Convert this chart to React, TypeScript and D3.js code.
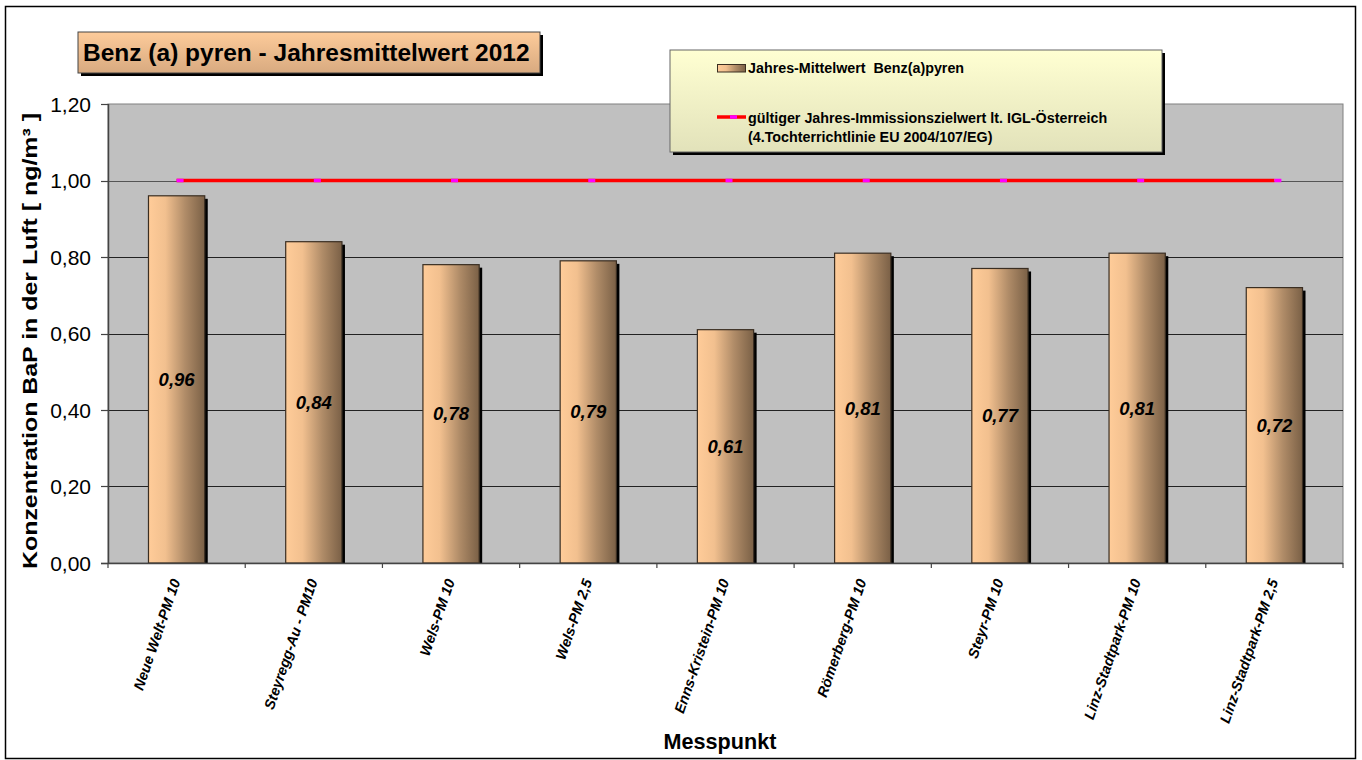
import React from "react";
import * as d3 from "d3";

const categories = [
  "Neue Welt-PM 10",
  "Steyregg-Au - PM10",
  "Wels-PM 10",
  "Wels-PM 2,5",
  "Enns-Kristein-PM 10",
  "Römerberg-PM 10",
  "Steyr-PM 10",
  "Linz-Stadtpark-PM 10",
  "Linz-Stadtpark-PM 2,5",
];
const values = [0.96, 0.84, 0.78, 0.79, 0.61, 0.81, 0.77, 0.81, 0.72];
const limitValues = [1, 1, 1, 1, 1, 1, 1, 1, 1];
const yTicks = [0, 0.2, 0.4, 0.6, 0.8, 1.0, 1.2];

const W = 1362;
const H = 760;
const plot = { left: 108, right: 1343, top: 104, bottom: 563 };
const FONT = "'Liberation Sans', Arial, sans-serif";

export default function App() {
  const x = d3
    .scaleBand<string>()
    .domain(categories)
    .range([plot.left, plot.right])
    .paddingInner(0)
    .paddingOuter(0);
  const y = d3.scaleLinear().domain([0, 1.2]).range([plot.bottom, plot.top]);
  const bw = x.bandwidth() * 0.41;
  const fmt = (v: number) => d3.format(".2f")(v).replace(".", ",");
  const cx = (c: string) => (x(c) as number) + x.bandwidth() / 2;

  const line = d3
    .line<number>()
    .x((_, i) => cx(categories[i]))
    .y((d) => y(d));

  return (
    <svg
      width={W}
      height={H}
      style={{ position: "absolute", left: 0, top: 0, background: "#fff" }}
      fontFamily={FONT}
    >
      <defs>
        <linearGradient id="barGrad" x1="0" x2="1" y1="0" y2="0">
          <stop offset="0" stopColor="#FFCC99" />
          <stop offset="0.3" stopColor="#F2C08F" />
          <stop offset="0.65" stopColor="#B08C68" />
          <stop offset="1" stopColor="#7A6046" />
        </linearGradient>
        <linearGradient id="titleGrad" x1="0" x2="0" y1="0" y2="1">
          <stop offset="0" stopColor="#FDCB9A" />
          <stop offset="1" stopColor="#D8AA80" />
        </linearGradient>
        <linearGradient id="legGrad" x1="0" x2="0" y1="0" y2="1">
          <stop offset="0" stopColor="#FFFFD2" />
          <stop offset="1" stopColor="#E2E2BA" />
        </linearGradient>
      </defs>

      {/* outer frame */}
      <rect x={5.5} y={6.5} width={1350} height={752} fill="#fff" stroke="#000" strokeWidth={1.5} />

      {/* plot area */}
      <rect
        x={plot.left}
        y={plot.top}
        width={plot.right - plot.left}
        height={plot.bottom - plot.top}
        fill="#C0C0C0"
        stroke="#808080"
        strokeWidth={1}
      />

      {/* gridlines */}
      {yTicks.slice(1, -1).map((t) => (
        <line
          key={"g" + t}
          x1={plot.left}
          x2={plot.right}
          y1={Math.round(y(t)) + 0.5}
          y2={Math.round(y(t)) + 0.5}
          stroke={t === 1 ? "#555" : "#222"}
          strokeWidth={1}
        />
      ))}

      {/* y axis */}
      <line x1={plot.left + 0.5} x2={plot.left + 0.5} y1={plot.top} y2={plot.bottom} stroke="#444" strokeWidth={1.5} />
      {yTicks.map((t) => (
        <g key={"yt" + t}>
          <line
            x1={plot.left - 7}
            x2={plot.left}
            y1={Math.round(y(t)) + 0.5}
            y2={Math.round(y(t)) + 0.5}
            stroke="#444"
            strokeWidth={1.2}
          />
          <text x={91} y={y(t) + 7.5} textAnchor="end" fontSize={21} fill="#000">
            {fmt(t)}
          </text>
        </g>
      ))}

      {/* bars */}
      {categories.map((c, i) => {
        const bx = cx(c) - bw / 2;
        const by = y(values[i]);
        const bh = plot.bottom - by;
        return (
          <g key={"b" + c}>
            <rect x={bx + 3} y={by + 3} width={bw} height={bh - 3} fill="#000" />
            <rect x={bx} y={by} width={bw} height={bh} fill="url(#barGrad)" stroke="#3a2e22" strokeWidth={1.2} />
          </g>
        );
      })}

      {/* x axis */}
      <line x1={plot.left - 7} x2={plot.right} y1={plot.bottom + 0.5} y2={plot.bottom + 0.5} stroke="#444" strokeWidth={1.5} />
      {d3.range(categories.length + 1).map((i) => {
        const xx = plot.left + i * x.bandwidth();
        return (
          <line key={"xt" + i} x1={xx} x2={xx} y1={plot.bottom} y2={plot.bottom + 5} stroke="#444" strokeWidth={1.2} />
        );
      })}

      {/* limit line */}
      <path d={line(limitValues) as string} fill="none" stroke="#FF0000" strokeWidth={3.5} />
      {categories.map((c, i) => (
        <rect key={"m" + c} x={cx(c)} y={y(limitValues[i]) - 1.75} width={7} height={3.5} fill="#FF00FF" />
      ))}

      {/* value labels */}
      {categories.map((c, i) => (
        <text
          key={"v" + c}
          x={cx(c)}
          y={(y(values[i]) + plot.bottom) / 2 + 6.5}
          textAnchor="middle"
          fontSize={18.5}
          fontWeight="bold"
          fontStyle="italic"
          fill="#000"
        >
          {fmt(values[i])}
        </text>
      ))}

      {/* x labels */}
      {categories.map((c) => (
        <text
          key={"xl" + c}
          transform={`translate(${cx(c) + 4},${plot.bottom + 18}) rotate(-71)`}
          textAnchor="end"
          fontSize={14.5}
          fontWeight="bold"
          fontStyle="italic"
          fill="#000"
        >
          {c}
        </text>
      ))}

      {/* axis titles */}
      <text x={720} y={749} textAnchor="middle" fontSize={21.6} fontWeight="bold" fill="#000">
        Messpunkt
      </text>
      <text
        transform={`translate(37,341) rotate(-90)`}
        textAnchor="middle"
        fontSize={21}
        fontWeight="bold"
        fill="#000"
        textLength={456}
        lengthAdjust="spacingAndGlyphs"
      >
        Konzentration BaP in der Luft [ ng/m³ ]
      </text>

      {/* title box */}
      <rect x={81} y={35} width={462} height={41} fill="#000" />
      <rect x={78} y={32} width={462} height={41} fill="url(#titleGrad)" stroke="#444" strokeWidth={1} />
      <text x={83} y={60.5} fontSize={24.5} fontWeight="bold" fill="#000">
        Benz (a) pyren - Jahresmittelwert 2012
      </text>

      {/* legend */}
      <rect x={673} y={53} width={492} height={102} fill="#000" />
      <rect x={670} y={50} width={492} height={102} fill="url(#legGrad)" stroke="#666" strokeWidth={1} />
      <rect x={717.5} y={64.5} width={28} height={7.5} fill="url(#barGrad)" stroke="#3a2e22" strokeWidth={1} />
      <text x={748} y={72.5} fontSize={14.3} fontWeight="bold" fill="#000" style={{ whiteSpace: "pre" }}>
        {"Jahres-Mittelwert  Benz(a)pyren"}
      </text>
      <line x1={717} x2={746} y1={117} y2={117} stroke="#FF0000" strokeWidth={3.5} />
      <rect x={730} y={115.25} width={7} height={3.5} fill="#FF00FF" />
      <text x={748} y={122.5} fontSize={14.3} fontWeight="bold" fill="#000">
        gültiger Jahres-Immissionszielwert lt. IGL-Österreich
      </text>
      <text x={748} y={141.5} fontSize={14.3} fontWeight="bold" fill="#000">
        (4.Tochterrichtlinie EU 2004/107/EG)
      </text>
    </svg>
  );
}
